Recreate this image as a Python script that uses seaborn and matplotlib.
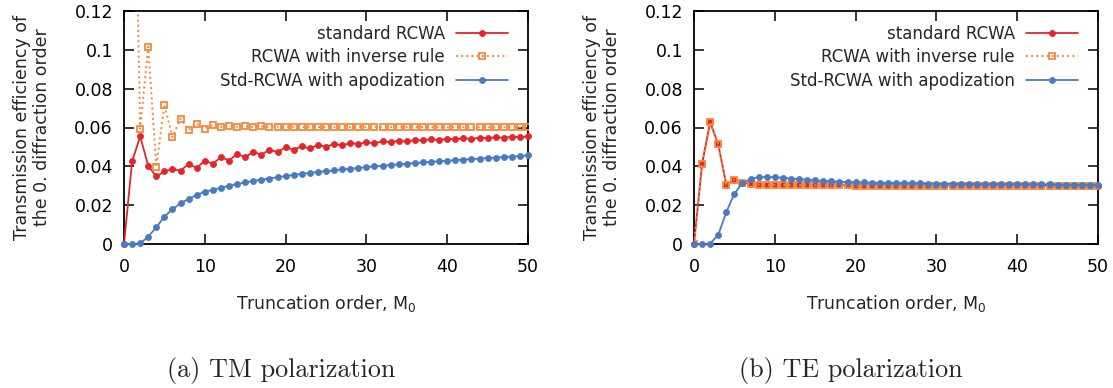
import numpy as np
import pandas as pd
import matplotlib
matplotlib.use("Agg")
import matplotlib.pyplot as plt
import seaborn as sns

# ---------------- data ----------------
truncation_order = list(range(51))

tm_standard = [0.0, 0.0425, 0.0554, 0.0403, 0.0348, 0.0374, 0.0387, 0.0377, 0.0413, 0.0391,
               0.0430, 0.0413, 0.0448, 0.0430, 0.0463, 0.0448, 0.0474, 0.0460, 0.0486, 0.0474,
               0.0497, 0.0486, 0.0503, 0.0492, 0.0510, 0.0501, 0.0515, 0.0508, 0.0520, 0.0515,
               0.0523, 0.0520, 0.0528, 0.0525, 0.0532, 0.0528, 0.0535, 0.0534, 0.0539, 0.0535,
               0.0542, 0.0540, 0.0544, 0.0542, 0.0547, 0.0546, 0.0549, 0.0547, 0.0552, 0.0551,
               0.0554]
tm_inverse = [0.30, 0.28, 0.0594, 0.1016, 0.0396, 0.0718, 0.0551, 0.0646, 0.0587, 0.0620,
              0.0594, 0.0613, 0.0603, 0.0610, 0.0604, 0.0606, 0.0603, 0.0606, 0.0603, 0.0605,
              0.0603, 0.0604, 0.0602, 0.0604, 0.0602, 0.0603, 0.0602, 0.0603, 0.0602, 0.0603,
              0.0602, 0.0603, 0.0602, 0.0602, 0.0602, 0.0602, 0.0602, 0.0602, 0.0601, 0.0602,
              0.0601, 0.0602, 0.0601, 0.0601, 0.0601, 0.0601, 0.0601, 0.0601, 0.0601, 0.0601,
              0.0601]
tm_apodized = [0.0, 0.0, 0.0003, 0.0038, 0.0086, 0.0141, 0.0179, 0.0210, 0.0232, 0.0253,
               0.0269, 0.0279, 0.0289, 0.0300, 0.0308, 0.0317, 0.0325, 0.0332, 0.0337, 0.0344,
               0.0350, 0.0356, 0.0361, 0.0366, 0.0371, 0.0375, 0.0379, 0.0384, 0.0388, 0.0392,
               0.0396, 0.0400, 0.0403, 0.0407, 0.0410, 0.0414, 0.0417, 0.0420, 0.0423, 0.0426,
               0.0429, 0.0432, 0.0435, 0.0437, 0.0440, 0.0443, 0.0445, 0.0448, 0.0450, 0.0453,
               0.0456]

te_standard = [0.0, 0.0413, 0.0627, 0.0513, 0.0305, 0.0331, 0.0313, 0.0310, 0.0307, 0.0306,
               0.0306, 0.0305, 0.0305, 0.0304, 0.0304, 0.0304, 0.0303, 0.0303, 0.0303, 0.0302,
               0.0302, 0.0302, 0.0302, 0.0302, 0.0301, 0.0301, 0.0301, 0.0301, 0.0301, 0.0301,
               0.0301, 0.0301, 0.0301, 0.0300, 0.0300, 0.0300, 0.0300, 0.0300, 0.0300, 0.0300,
               0.0300, 0.0300, 0.0300, 0.0300, 0.0300, 0.0300, 0.0300, 0.0300, 0.0300, 0.0300,
               0.0300]
te_inverse = [0.0, 0.0413, 0.0627, 0.0513, 0.0305, 0.0332, 0.0312, 0.0309, 0.0306, 0.0305,
              0.0305, 0.0304, 0.0304, 0.0303, 0.0303, 0.0303, 0.0302, 0.0302, 0.0302, 0.0302,
              0.0301, 0.0301, 0.0301, 0.0301, 0.0301, 0.0300, 0.0300, 0.0300, 0.0300, 0.0300,
              0.0300, 0.0300, 0.0300, 0.0299, 0.0299, 0.0299, 0.0299, 0.0299, 0.0299, 0.0299,
              0.0299, 0.0299, 0.0299, 0.0299, 0.0299, 0.0299, 0.0299, 0.0299, 0.0299, 0.0299,
              0.0299]
te_apodized = [0.0, 0.0, 0.0002, 0.0047, 0.0164, 0.0260, 0.0313, 0.0335, 0.0345, 0.0346,
               0.0344, 0.0341, 0.0337, 0.0334, 0.0331, 0.0328, 0.0325, 0.0323, 0.0321, 0.0319,
               0.0318, 0.0317, 0.0316, 0.0315, 0.0314, 0.0313, 0.0313, 0.0312, 0.0312, 0.0311,
               0.0311, 0.0310, 0.0310, 0.0310, 0.0309, 0.0309, 0.0309, 0.0308, 0.0308, 0.0308,
               0.0308, 0.0307, 0.0307, 0.0307, 0.0307, 0.0306, 0.0306, 0.0306, 0.0306, 0.0306,
               0.0305]

series_labels = ["standard RCWA", "RCWA with inverse rule", "Std-RCWA with apodization"]
panel_captions = ["(a) TM polarization", "(b) TE polarization"]
x_ticks = [0, 10, 20, 30, 40, 50]
x_tick_labels = ["0", "10", "20", "30", "40", "50"]
y_ticks = [0, 0.02, 0.04, 0.06, 0.08, 0.1, 0.12]
y_tick_labels = ["0", "0.02", "0.04", "0.06", "0.08", "0.1", "0.12"]
x_label = "Truncation order, M$_0$"
y_label = "Transmission efficiency of\nthe 0. diffraction order"

# ---------------- style ----------------
sns.set_theme(style="ticks")
plt.rcParams["font.family"] = ["DejaVu Sans"]
plt.rcParams["mathtext.fontset"] = "dejavusans"

RED = "#e3262a"
ORANGE = "#f5893a"
BLUE = "#4a7bc0"
FS = 12.5
LEG_FS = 12

W, H = 1113, 388
fig = plt.figure(figsize=(W / 100, H / 100), dpi=100)

ax_boxes = [(124, 11, 528, 244), (694, 11, 1098, 244)]
panels = [(tm_standard, tm_inverse, tm_apodized), (te_standard, te_inverse, te_apodized)]
caption_x = [281, 851]

for (x0, y0, x1, y1), (std, inv, apo), cap, cx in zip(ax_boxes, panels, panel_captions, caption_x):
    ax = fig.add_axes([x0 / W, 1 - y1 / H, (x1 - x0) / W, (y1 - y0) / H])
    df = pd.DataFrame({"M": truncation_order, "std": std, "inv": inv, "apo": apo})

    sns.lineplot(data=df, x="M", y="std", ax=ax, color=RED, lw=1.3, marker="o",
                 markersize=4.4, markeredgecolor=RED, markeredgewidth=0.5,
                 label=series_labels[0], clip_on=False, zorder=3)
    sns.lineplot(data=df, x="M", y="inv", ax=ax, color=ORANGE, lw=1.4, linestyle=":",
                 marker="s", markersize=4.8, markerfacecolor="none",
                 markeredgecolor=ORANGE, markeredgewidth=1.3,
                 label=series_labels[1], zorder=4)
    sns.lineplot(data=df, x="M", y="apo", ax=ax, color=BLUE, lw=1.3, marker="o",
                 markersize=4.4, markeredgecolor=BLUE, markeredgewidth=0.5,
                 label=series_labels[2], clip_on=False, zorder=5)

    ax.set_xlim(0, 50)
    ax.set_ylim(0, 0.12)
    ax.set_xticks(x_ticks)
    ax.set_xticklabels(x_tick_labels)
    ax.set_yticks(y_ticks)
    ax.set_yticklabels(y_tick_labels)
    ax.tick_params(axis="both", which="major", direction="in", length=7, width=1.1,
                   labelsize=FS, colors="black", top=True, right=True)
    ax.tick_params(axis="x", pad=10)
    ax.tick_params(axis="y", pad=8)
    for sp in ax.spines.values():
        sp.set_visible(True)
        sp.set_linewidth(1.3)
        sp.set_color("black")
    ax.set_xlabel(x_label, fontsize=FS, labelpad=12)
    ax.set_ylabel(y_label, fontsize=FS, labelpad=17, linespacing=1.1)
    ax.grid(False)

    ax.legend(loc="upper right", frameon=False, markerfirst=False, fontsize=LEG_FS,
              handlelength=3.1, handletextpad=0.7, labelspacing=0.32, borderpad=0,
              borderaxespad=0, numpoints=1,
              bbox_to_anchor=(1 - 20 / 404, 1 - 14 / 233))

    fig.text(cx / W, 1 - 377 / H, cap, ha="center", va="baseline",
             fontsize=18.8, family="cmr10")

fig.savefig("out.png", dpi=100)
